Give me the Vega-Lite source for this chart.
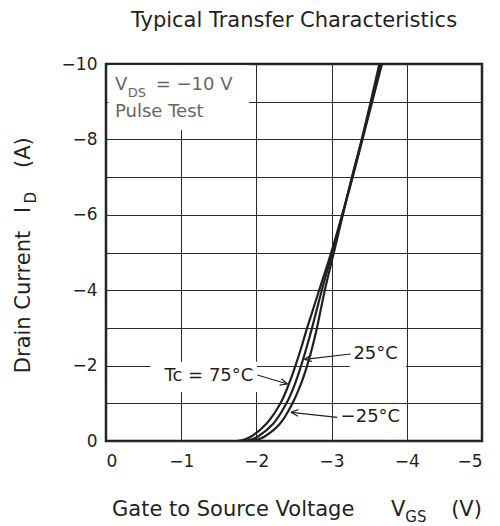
{
  "$schema": "https://vega.github.io/schema/vega-lite/v6.json",
  "width": 376,
  "height": 377,
  "autosize": "none",
  "padding": {"left": 106, "top": 64, "right": 18, "bottom": 85},
  "background": "white",
  "title": {
    "text": "Typical Transfer Characteristics",
    "font": "DejaVu Sans",
    "fontSize": 21,
    "fontWeight": "normal",
    "color": "#231f20",
    "anchor": "middle",
    "offset": 24
  },
  "config": {
    "view": {"stroke": "#231f20", "strokeWidth": 2.5},
    "text": {"font": "DejaVu Sans", "color": "#231f20"}
  },
  "datasets": {
    "curves": [
      {"tc": "75°C", "vgs": -1.74, "id": 0},
      {"tc": "75°C", "vgs": -1.84, "id": -0.04},
      {"tc": "75°C", "vgs": -1.93, "id": -0.12},
      {"tc": "75°C", "vgs": -2.13, "id": -0.45},
      {"tc": "75°C", "vgs": -2.32, "id": -1},
      {"tc": "75°C", "vgs": -2.43, "id": -1.5},
      {"tc": "75°C", "vgs": -2.52, "id": -2},
      {"tc": "75°C", "vgs": -2.60, "id": -2.5},
      {"tc": "75°C", "vgs": -2.675, "id": -3},
      {"tc": "75°C", "vgs": -2.835, "id": -4},
      {"tc": "75°C", "vgs": -2.995, "id": -5},
      {"tc": "75°C", "vgs": -3.14, "id": -6},
      {"tc": "75°C", "vgs": -3.28, "id": -7},
      {"tc": "75°C", "vgs": -3.41, "id": -8},
      {"tc": "75°C", "vgs": -3.54, "id": -9},
      {"tc": "75°C", "vgs": -3.67, "id": -10},
      {"tc": "25°C", "vgs": -1.83, "id": 0},
      {"tc": "25°C", "vgs": -1.93, "id": -0.04},
      {"tc": "25°C", "vgs": -2.02, "id": -0.12},
      {"tc": "25°C", "vgs": -2.22, "id": -0.45},
      {"tc": "25°C", "vgs": -2.40, "id": -1},
      {"tc": "25°C", "vgs": -2.51, "id": -1.5},
      {"tc": "25°C", "vgs": -2.595, "id": -2},
      {"tc": "25°C", "vgs": -2.67, "id": -2.5},
      {"tc": "25°C", "vgs": -2.74, "id": -3},
      {"tc": "25°C", "vgs": -2.87, "id": -4},
      {"tc": "25°C", "vgs": -3.01, "id": -5},
      {"tc": "25°C", "vgs": -3.145, "id": -6},
      {"tc": "25°C", "vgs": -3.275, "id": -7},
      {"tc": "25°C", "vgs": -3.405, "id": -8},
      {"tc": "25°C", "vgs": -3.53, "id": -9},
      {"tc": "25°C", "vgs": -3.65, "id": -10},
      {"tc": "-25°C", "vgs": -1.92, "id": 0},
      {"tc": "-25°C", "vgs": -2.02, "id": -0.04},
      {"tc": "-25°C", "vgs": -2.11, "id": -0.12},
      {"tc": "-25°C", "vgs": -2.31, "id": -0.45},
      {"tc": "-25°C", "vgs": -2.48, "id": -1},
      {"tc": "-25°C", "vgs": -2.59, "id": -1.5},
      {"tc": "-25°C", "vgs": -2.675, "id": -2},
      {"tc": "-25°C", "vgs": -2.745, "id": -2.5},
      {"tc": "-25°C", "vgs": -2.805, "id": -3},
      {"tc": "-25°C", "vgs": -2.91, "id": -4},
      {"tc": "-25°C", "vgs": -3.03, "id": -5},
      {"tc": "-25°C", "vgs": -3.15, "id": -6},
      {"tc": "-25°C", "vgs": -3.27, "id": -7},
      {"tc": "-25°C", "vgs": -3.40, "id": -8},
      {"tc": "-25°C", "vgs": -3.52, "id": -9},
      {"tc": "-25°C", "vgs": -3.635, "id": -10}
    ],
    "boxes": [
      {"vgs": -0.03, "vgs2": -1.9, "id": -9.97, "id2": -8.25},
      {"vgs": -0.59, "vgs2": -2.01, "id": -2.1, "id2": -1.3},
      {"vgs": -3.24, "vgs2": -3.99, "id": -2.65, "id2": -1.96},
      {"vgs": -3.05, "vgs2": -3.99, "id": -0.97, "id2": -0.24}
    ],
    "arrows": [
      {"vgs": -2.013, "id": -1.751, "vgs2": -2.413, "id2": -1.512},
      {"vgs": -2.333, "id": -1.653, "vgs2": -2.413, "id2": -1.512},
      {"vgs": -2.308, "id": -1.480, "vgs2": -2.413, "id2": -1.512},
      {"vgs": -3.253, "id": -2.308, "vgs2": -2.640, "id2": -2.167},
      {"vgs": -2.741, "id": -2.109, "vgs2": -2.640, "id2": -2.167},
      {"vgs": -2.731, "id": -2.286, "vgs2": -2.640, "id2": -2.167},
      {"vgs": -3.076, "id": -0.629, "vgs2": -2.460, "id2": -0.760},
      {"vgs": -2.553, "id": -0.657, "vgs2": -2.460, "id2": -0.760},
      {"vgs": -2.560, "id": -0.834, "vgs2": -2.460, "id2": -0.760}
    ]
  },
  "encoding": {
    "x": {
      "field": "vgs",
      "type": "quantitative",
      "scale": {"domain": [0, -5], "nice": false, "zero": false},
      "axis": {
        "values": [0, -0.5, -1, -1.5, -2, -2.5, -3, -3.5, -4, -4.5, -5],
        "format": "d",
        "labelExpr": "datum.value % 1 == 0 ? datum.label : ''",
        "title": null,
        "domain": false,
        "ticks": false,
        "grid": true,
        "gridColor": "#2b2b2b",
        "gridWidth": 1,
        "gridOpacity": 1,
        "labelFont": "DejaVu Sans",
        "labelFontSize": 17,
        "labelColor": "#231f20",
        "labelPadding": 12
      }
    },
    "y": {
      "field": "id",
      "type": "quantitative",
      "scale": {"domain": [0, -10], "nice": false, "zero": false},
      "axis": {
        "values": [0, -1, -2, -3, -4, -5, -6, -7, -8, -9, -10],
        "format": "d",
        "labelExpr": "datum.value % 2 == 0 ? datum.label : ''",
        "title": null,
        "domain": false,
        "ticks": false,
        "grid": true,
        "gridColor": "#2b2b2b",
        "gridWidth": 1,
        "gridOpacity": 1,
        "labelFont": "DejaVu Sans",
        "labelFontSize": 17,
        "labelColor": "#231f20",
        "labelPadding": 9
      }
    }
  },
  "layer": [
    {
      "data": {"name": "boxes"},
      "mark": {"type": "rect", "fill": "white", "stroke": null},
      "encoding": {"x2": {"field": "vgs2"}, "y2": {"field": "id2"}}
    },
    {
      "data": {"name": "curves"},
      "mark": {"type": "line", "interpolate": "catmull-rom", "stroke": "#231f20", "strokeWidth": 2.2, "clip": true},
      "encoding": {
        "detail": {"field": "tc", "type": "nominal"},
        "order": {"field": "id", "sort": "descending"}
      }
    },
    {
      "data": {"name": "arrows"},
      "mark": {"type": "rule", "stroke": "#231f20", "strokeWidth": 1.2},
      "encoding": {"x2": {"field": "vgs2"}, "y2": {"field": "id2"}}
    },
    {
      "data": {"values": [
        {"vgs": -1.96, "id": -1.72, "text": "Tc = 75°C"}
      ]},
      "mark": {"type": "text", "fontSize": 18, "align": "right", "baseline": "middle"},
      "encoding": {"text": {"field": "text"}}
    },
    {
      "data": {"values": [
        {"vgs": -3.29, "id": -2.31, "text": "25°C"},
        {"vgs": -3.12, "id": -0.64, "text": "−25°C"}
      ]},
      "mark": {"type": "text", "fontSize": 18, "align": "left", "baseline": "middle"},
      "encoding": {"text": {"field": "text"}}
    },
    {
      "data": {"values": [
        {"vgs": -0.12, "id": -9.44, "text": "V"},
        {"vgs": -0.66, "id": -9.44, "text": "= −10 V"},
        {"vgs": -0.12, "id": -8.73, "text": "Pulse Test"}
      ]},
      "mark": {"type": "text", "fontSize": 18, "align": "left", "baseline": "middle", "color": "#666666"},
      "encoding": {"text": {"field": "text"}}
    },
    {
      "data": {"values": [
        {"vgs": -0.29, "id": -9.23, "text": "DS"}
      ]},
      "mark": {"type": "text", "fontSize": 13, "align": "left", "baseline": "middle", "color": "#666666"},
      "encoding": {"text": {"field": "text"}}
    },
    {
      "data": {"values": [
        {"vgs": -0.08, "id": 1.83, "text": "Gate to Source Voltage"},
        {"vgs": -3.79, "id": 1.83, "text": "V"},
        {"vgs": -4.59, "id": 1.83, "text": "(V)"}
      ]},
      "mark": {"type": "text", "fontSize": 21, "align": "left", "baseline": "middle"},
      "encoding": {"text": {"field": "text"}}
    },
    {
      "data": {"values": [
        {"vgs": -3.98, "id": 2.02, "text": "GS"}
      ]},
      "mark": {"type": "text", "fontSize": 15, "align": "left", "baseline": "middle"},
      "encoding": {"text": {"field": "text"}}
    },
    {
      "data": {"values": [
        {"vgs": 1.093, "id": -1.8, "text": "Drain Current"},
        {"vgs": 1.093, "id": -6.05, "text": "I"},
        {"vgs": 1.093, "id": -7.24, "text": "(A)"}
      ]},
      "mark": {"type": "text", "fontSize": 21, "align": "left", "baseline": "middle", "angle": 270},
      "encoding": {"text": {"field": "text"}}
    },
    {
      "data": {"values": [
        {"vgs": 1.0, "id": -6.3, "text": "D"}
      ]},
      "mark": {"type": "text", "fontSize": 15, "align": "left", "baseline": "middle", "angle": 270},
      "encoding": {"text": {"field": "text"}}
    }
  ]
}
